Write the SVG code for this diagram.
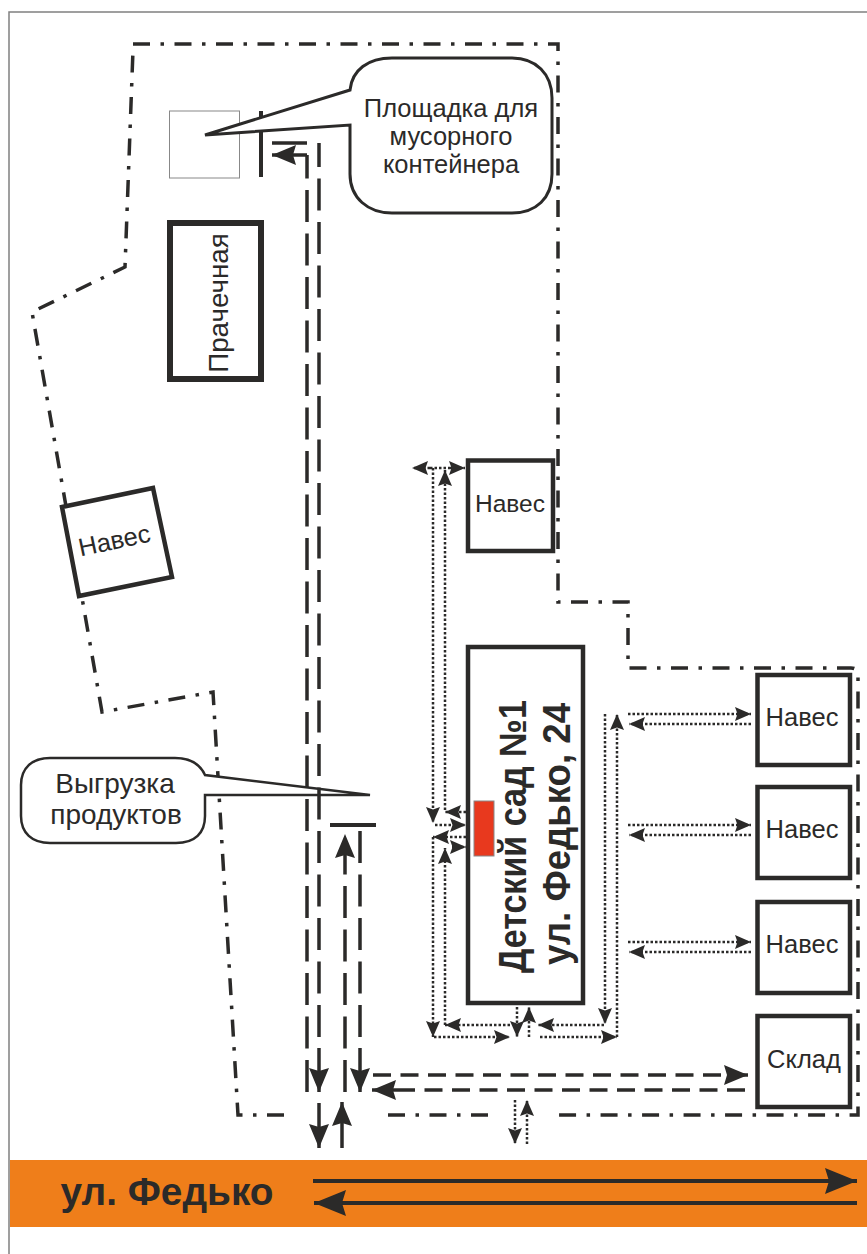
<svg xmlns="http://www.w3.org/2000/svg" width="867" height="1254" viewBox="0 0 867 1254">
<style>
text{font-family:"Liberation Sans",Arial,sans-serif;fill:#2b2a29}
.b{fill:#fff;stroke:#2b2a29;stroke-width:4.5}
.t{font-size:25.500px;text-anchor:middle}
.k{font-size:38px;font-weight:700;text-anchor:start}
.bd{fill:none;stroke:#2b2a29;stroke-width:3.500;stroke-dasharray:17 10.500 3.500 10.500}
.d{fill:none;stroke:#2b2a29;stroke-width:3.500;stroke-dasharray:32 11.500}
.h{fill:none;stroke:#2b2a29;stroke-width:3.500;stroke-dasharray:18 9.500}
.s{fill:none;stroke:#2b2a29;stroke-width:3.500}
.o{fill:none;stroke:#2b2a29;stroke-width:2.500;stroke-dasharray:2.500 2}
.c{fill:#fff;stroke:#2b2a29;stroke-width:3}
</style>
<defs>
<marker id="a" markerUnits="userSpaceOnUse" markerWidth="24" markerHeight="20" refX="24" refY="10" orient="auto"><path d="M0 0L24 10L0 20L3 10Z" fill="#2b2a29"/></marker>
<marker id="r" markerUnits="userSpaceOnUse" markerWidth="32" markerHeight="26" refX="32" refY="13" orient="auto"><path d="M0 0L32 13L0 26L4 13Z" fill="#2b2a29"/></marker>
<marker id="m" markerUnits="userSpaceOnUse" markerWidth="16" markerHeight="14" refX="16" refY="7" orient="auto"><path d="M0 0L16 7L0 14L2.500 7Z" fill="#2b2a29"/></marker>
</defs>
<rect x="9" y="12" width="860" height="1260" fill="#fff" stroke="#808080" stroke-width="1.500"/>
<rect id="road" x="10" y="1160" width="857" height="67" fill="#ef7e1a"/>
<g id="boundary">
<path class="bd" d="M133 44H558V602H628V668H851Q858 668 858 675V1115H550"/>
<path class="bd" d="M488 1115H388"/>
<path class="bd" d="M284 1115H238L213 692L102 712L32 312L125 267L133 50"/>
</g>
<g id="container-site"><rect x="169.500" y="111" width="70" height="67" fill="#fff" stroke="#888" stroke-width="1"/></g>
<path id="gate-top" d="M261 111V177" stroke="#2b2a29" stroke-width="4"/>
<g id="callout-top"><path class="c" d="M350 90C352 70 368 58 392 58H512C536 58 552 74 552 98V174C552 198 536 213 512 213H392C368 213 350 198 350 174V125L205 135Z"/><text class="t" x="451" y="117">Площадка для</text><text class="t" x="451" y="145">мусорного</text><text class="t" x="451" y="173">контейнера</text></g>
<g id="callout-bottom"><path class="c" style="stroke-width:2.500" d="M205 775C200 764 190 758 175 758H50C32 758 21 768 21 785V816C21 833 32 843 50 843H176C195 843 205 833 205 816V795H370Z"/><text class="t" style="font-size:28px" x="115" y="793">Выгрузка</text><text class="t" style="font-size:28px" x="116" y="824">продуктов</text></g>
<g id="connectors">
<path class="d" d="M319 1037V143"/>
<path class="d" d="M307 1092V155"/>
<path class="s" d="M307 155H272" marker-end="url(#a)"/>
<path class="s" d="M272 143H307"/>
<path class="s" d="M319 1048V1092" marker-end="url(#a)"/>
<path class="d" d="M345 1092V834" marker-end="url(#a)"/>
<path class="d" d="M360 1037V831"/>
<path class="s" d="M360 1048V1092" marker-end="url(#a)"/>
<path d="M330 825H376" stroke="#2b2a29" stroke-width="4"/>
<path class="s" d="M319 1103V1148" marker-end="url(#a)"/>
<path class="s" d="M342 1148V1102" marker-end="url(#a)"/>
<path class="h" d="M373 1075H748" marker-end="url(#a)"/>
<path class="h" d="M397 1090H750"/>
<path class="s" d="M397 1090H372" marker-end="url(#a)"/>
<path class="s" style="stroke-width:4" d="M313 1181H857" marker-end="url(#r)"/>
<path class="s" style="stroke-width:4" d="M857 1203H314" marker-end="url(#r)"/>
<path class="o" d="M515 1100V1144" marker-end="url(#m)"/>
<path class="o" d="M527 1144V1100" marker-end="url(#m)"/>
<path class="o" d="M430 468H412" marker-end="url(#m)"/>
<path class="o" d="M450 468H465" marker-end="url(#m)"/>
<path class="o" d="M430 468H450"/>
<path class="o" d="M433 468V823" marker-end="url(#m)"/>
<path class="o" d="M445 810V470" marker-end="url(#m)"/>
<path class="o" d="M466 812H445" marker-end="url(#m)"/>
<path class="o" d="M435 825H466" marker-end="url(#m)"/>
<path class="o" d="M466 837H433" marker-end="url(#m)"/>
<path class="o" d="M452 847H466" marker-end="url(#m)"/>
<path class="o" d="M445 1025V848" marker-end="url(#m)"/>
<path class="o" d="M433 837V1037" marker-end="url(#m)"/>
<path class="o" d="M434 1037H510" marker-end="url(#m)"/>
<path class="o" d="M510 1025H445" marker-end="url(#m)"/>
<path class="o" d="M517 1007V1037" marker-end="url(#m)"/>
<path class="o" d="M529 1037V1007" marker-end="url(#m)"/>
<path class="o" d="M604 1025H538" marker-end="url(#m)"/>
<path class="o" d="M540 1037H617" marker-end="url(#m)"/>
<path class="o" d="M605 714V1024" marker-end="url(#m)"/>
<path class="o" d="M617 1037V714" marker-end="url(#m)"/>
<path class="o" d="M628 714H751" marker-end="url(#m)"/>
<path class="o" d="M751 724H629" marker-end="url(#m)"/>
<path class="o" d="M628 825H751" marker-end="url(#m)"/>
<path class="o" d="M751 835H629" marker-end="url(#m)"/>
<path class="o" d="M628 942H751" marker-end="url(#m)"/>
<path class="o" d="M751 952H629" marker-end="url(#m)"/>
</g>
<g id="laundry"><rect class="b" style="stroke-width:6" x="170" y="223" width="91" height="156"/><text class="t" style="font-size:27.800px" transform="translate(228 303) rotate(-90)">Прачечная</text></g>
<g id="shed-rotated"><path class="b" d="M62 507L153 488L172 577L79 596Z"/><text class="t" transform="translate(116 549) rotate(-12)">Навес</text></g>
<g id="shed-1"><rect class="b" x="468" y="460.500" width="85" height="90.500"/><text class="t" style="font-size:24.500px" x="510" y="512">Навес</text></g>
<g id="kindergarten"><rect class="b" x="468" y="647" width="115" height="356"/><text class="k" textLength="273" lengthAdjust="spacingAndGlyphs" transform="translate(526 973) rotate(-90)">Детский сад №1</text><text class="k" textLength="262" lengthAdjust="spacingAndGlyphs" transform="translate(570 965) rotate(-90)">ул. Федько, 24</text><rect x="474" y="801" width="20" height="55" fill="#e8391e" stroke="#888" stroke-width="1"/></g>
<g id="shed-2"><rect class="b" x="757.500" y="675" width="92.500" height="90"/><text class="t" x="802" y="726">Навес</text></g>
<g id="shed-3"><rect class="b" x="757.500" y="787" width="92.500" height="91"/><text class="t" x="802" y="838">Навес</text></g>
<g id="shed-4"><rect class="b" x="757.500" y="902" width="92.500" height="91"/><text class="t" x="802" y="953">Навес</text></g>
<g id="warehouse"><rect class="b" x="757.500" y="1016" width="92.500" height="91"/><text class="t" x="804" y="1068">Склад</text></g>
<text id="street" x="60.500" y="1205" font-size="38" font-weight="700" textLength="213" lengthAdjust="spacingAndGlyphs">ул. Федько</text>
</svg>
